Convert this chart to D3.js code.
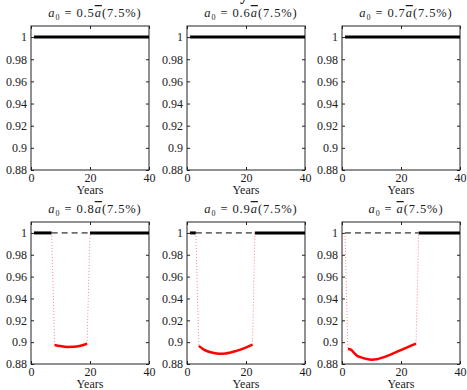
<!DOCTYPE html>
<html>
<head>
<meta charset="utf-8">
<script src="https://cdn.jsdelivr.net/npm/d3@7"></script>
<style>
  body { margin: 0; background: #fff; }
  text { font-family: "Liberation Serif", "Times New Roman", serif; fill: #1a1a1a; }
</style>
</head>
<body>
<svg id="chart" width="467" height="390"></svg>
<script>
// share of a-bar in each panel ("" means a-bar itself)
const multipliers = ["0.5", "0.6", "0.7", "0.8", "0.9", ""];
const rate = "7.5%";
const xTicks = [0, 20, 40];
const yTicks = [0.88, 0.9, 0.92, 0.94, 0.96, 0.98, 1];
const yTickLabels = ["0.88", "0.9", "0.92", "0.94", "0.96", "0.98", "1"];

// spans of years where the ratio sits at 1 (thick black)
const flatSpans = [
  [[1, 40]], [[1, 40]], [[1, 40]],
  [[1, 7], [20, 40]],
  [[1, 3], [23, 40]],
  [[26, 40]]
];
// spans drawn as the thin dashed reference at 1
const dashedSpans = [[], [], [], [[7, 20]], [[3, 23]], [[1, 26]]];
// red curve while the constraint binds: [year, value]
const redCurves = [
  [], [], [],
  [[8, 0.8974], [9.9, 0.8964], [12.2, 0.8956], [14.5, 0.8957], [16.8, 0.8967], [19, 0.8985]],
  [[4, 0.8966], [5.7, 0.8932], [8, 0.8907], [10.8, 0.8894], [13.1, 0.8897], [16.5, 0.8918], [19.9, 0.8950], [22.2, 0.8977]],
  [[2, 0.8937], [3, 0.8931], [4, 0.8905], [5, 0.8878], [6.5, 0.8861], [8.4, 0.8846], [10.1, 0.8840],
   [11.8, 0.8844], [14, 0.8861], [17.4, 0.8897], [20.8, 0.8937], [23.6, 0.8971], [25.1, 0.8987]]
];

const svg = d3.select('#chart');
svg.append('rect').attr('width', 467).attr('height', 390).attr('fill', '#fff');

// clipped fragment of the figure heading above
svg.append('text').attr('x', 240).attr('y', 0).attr('font-size', 16).attr('font-weight', 'bold').text('y');

const colX = [31, 187, 342];
const rowY = [[26, 170], [222, 364]];
const w = 118;

multipliers.forEach((m, i) => {
  const col = i % 3, row = Math.floor(i / 3);
  const left = colX[col], top = rowY[row][0], bottom = rowY[row][1];
  const x = d3.scaleLinear().domain([0, 40]).range([left, left + w]);
  const y = d3.scaleLinear().domain([0.88, 1.01]).range([bottom, top]);

  const g = svg.append('g');

  // ticks (inward)
  const ax = [
    d3.axisBottom(x).tickValues(xTicks).tickSize(-3).tickPadding(3),
    d3.axisTop(x).tickValues(xTicks).tickSize(-3).tickFormat(''),
    d3.axisLeft(y).tickValues(yTicks).tickSize(-3).tickPadding(4).tickFormat((d, k) => yTickLabels[k]),
    d3.axisRight(y).tickValues(yTicks).tickSize(-3).tickFormat('')
  ];
  const pos = [`translate(0,${bottom})`, `translate(0,${top})`, `translate(${left},0)`, `translate(${left + w},0)`];
  ax.forEach((a, k) => {
    const ag = g.append('g').attr('transform', pos[k]).call(a);
    ag.select('.domain').remove();
    ag.selectAll('line').attr('stroke', '#222');
    ag.selectAll('text').attr('font-size', 12).attr('font-family', '"Liberation Serif", serif').attr('fill', '#1a1a1a');
  });

  g.append('rect')
    .attr('x', left).attr('y', top).attr('width', w).attr('height', bottom - top)
    .attr('fill', 'none').attr('stroke', '#222').attr('stroke-width', 1);

  // title
  const t = g.append('text')
    .attr('x', left + w / 2 + 5).attr('y', top - 9)
    .attr('text-anchor', 'middle').attr('font-size', 12.5).attr('letter-spacing', 0.9);
  t.append('tspan').attr('font-style', 'italic').text('a');
  t.append('tspan').attr('font-size', 8).attr('dy', 3).text('0');
  t.append('tspan').attr('dy', -3).text(' = ' + m);
  t.append('tspan').attr('font-style', 'italic').style('text-decoration', 'overline').text('a');
  t.append('tspan').text('(' + rate + ')');

  g.append('text').attr('x', left + w / 2).attr('y', bottom + 24)
    .attr('text-anchor', 'middle').attr('font-size', 12).text('Years');

  const line = d3.line().x(d => x(d[0])).y(d => y(d[1]));

  dashedSpans[i].forEach(s => {
    g.append('path').attr('d', line([[s[0], 1], [s[1], 1]]))
      .attr('stroke', '#000').attr('stroke-width', 1).attr('stroke-dasharray', '6,4').attr('fill', 'none');
  });

  flatSpans[i].forEach(s => {
    g.append('path').attr('d', line([[s[0], 1], [s[1], 1]]))
      .attr('stroke', '#000').attr('stroke-width', 3).attr('fill', 'none');
  });

  const c = redCurves[i];
  if (c.length) {
    const d0 = dashedSpans[i][0];
    // dotted jumps into and out of the binding stretch
    [[[d0[0], 1], c[0]], [c[c.length - 1], [d0[1], 1]]].forEach(seg => {
      g.append('path').attr('d', line(seg))
        .attr('stroke', '#ff3030').attr('stroke-width', 1).attr('stroke-opacity', 0.6)
        .attr('stroke-dasharray', '1,2').attr('fill', 'none');
    });
    g.append('path').attr('d', line.curve(d3.curveMonotoneX)(c))
      .attr('stroke', '#ff0000').attr('stroke-width', 2.5).attr('fill', 'none');
    line.curve(d3.curveLinear);
  }
});
</script>
</body>
</html>
